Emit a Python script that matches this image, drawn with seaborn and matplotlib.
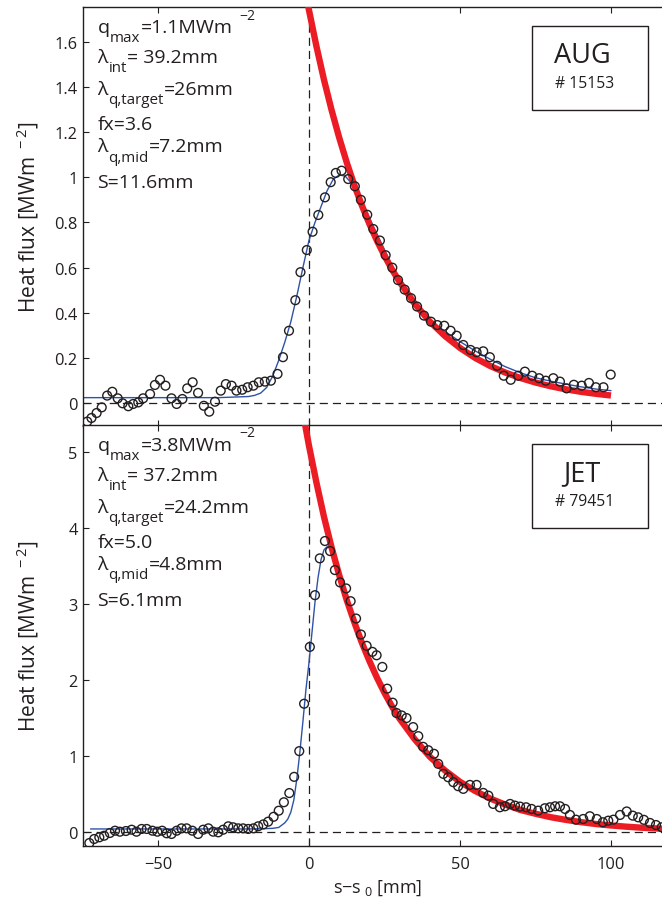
import matplotlib
matplotlib.use("Agg")
import matplotlib.pyplot as plt
from matplotlib.patches import Rectangle
import seaborn as sns

# ---------------- AUG #15153 ----------------
aug_s = [-73.4, -72.0, -70.3, -68.6, -66.8, -65.1, -63.3, -61.7, -59.8, -58.2,
         -56.5, -54.9, -52.6, -51.0, -49.3, -47.5, -45.5, -43.8, -41.9, -40.3,
         -38.5, -36.7, -34.8, -33.0, -31.1, -29.2, -27.5, -25.6, -24.0, -22.1,
         -20.3, -18.4, -16.6, -14.6, -12.6, -10.4, -8.6, -6.6, -4.5, -2.8,
         -0.7, 1.2, 3.1, 5.3, 7.2, 8.9, 10.8, 13.0, 15.2, 17.2,
         19.3, 21.3, 23.5, 25.4, 27.6, 29.5, 31.7, 33.8, 35.8, 38.1,
         40.4, 42.5, 44.8, 46.9, 48.9, 51.1, 53.5, 55.5, 57.7, 59.9,
         62.3, 64.5, 66.8, 69.3, 71.5, 73.9, 76.2, 78.4, 80.9, 83.1,
         85.3, 87.7, 90.3, 92.7, 95.0, 97.5, 99.9]
aug_q = [-0.081, -0.065, -0.043, -0.018, 0.034, 0.051, 0.022, 0.000, -0.013, -0.003,
         0.004, 0.022, 0.041, 0.081, 0.104, 0.078, 0.022, -0.003, 0.019, 0.066,
         0.093, 0.046, -0.011, -0.037, 0.007, 0.056, 0.085, 0.078, 0.056, 0.060,
         0.071, 0.078, 0.093, 0.096, 0.100, 0.130, 0.204, 0.321, 0.456, 0.580,
         0.678, 0.759, 0.833, 0.911, 0.978, 1.019, 1.029, 0.992, 0.960, 0.900,
         0.834, 0.771, 0.720, 0.655, 0.600, 0.545, 0.503, 0.465, 0.428, 0.388,
         0.361, 0.346, 0.343, 0.321, 0.299, 0.258, 0.236, 0.226, 0.230, 0.204,
         0.166, 0.122, 0.104, 0.122, 0.140, 0.122, 0.111, 0.100, 0.111, 0.096,
         0.066, 0.082, 0.078, 0.090, 0.071, 0.071, 0.127]

aug_fit_s = [-74.7, -30, -20, -18, -16, -14, -12, -10, -8, -6, -4, -2, 0, 2, 4, 6,
             8, 10, 12, 14, 16, 18, 20, 22.5, 25, 27.5, 30, 32.5, 35, 37.5, 40,
             45, 50, 55, 60, 65, 70, 75, 80, 85, 90, 95, 100]
aug_fit_q = [0.025, 0.025, 0.030, 0.035, 0.045, 0.070, 0.120, 0.190, 0.270, 0.360,
             0.475, 0.600, 0.720, 0.800, 0.870, 0.940, 0.990, 1.010, 1.005, 0.975,
             0.930, 0.880, 0.820, 0.750, 0.680, 0.610, 0.545, 0.490, 0.445, 0.400,
             0.368, 0.318, 0.273, 0.232, 0.195, 0.162, 0.135, 0.113, 0.098, 0.085,
             0.073, 0.063, 0.056]

aug_exp_s = [-2, 0, 2.5, 5, 7.5, 10, 12.5, 15, 17.5, 20, 22.5, 25, 27.5, 30, 35,
             40, 45, 50, 55, 60, 65, 70, 75, 80, 85, 90, 95, 100]
aug_exp_q = [1.882, 1.740, 1.578, 1.430, 1.297, 1.176, 1.066, 0.966, 0.876, 0.794,
             0.720, 0.653, 0.592, 0.537, 0.441, 0.362, 0.298, 0.245, 0.201, 0.165,
             0.136, 0.112, 0.092, 0.0755, 0.062, 0.051, 0.042, 0.0345]

# annotation lines as (text, role) pieces: "n" normal, "sub", "sup"
aug_info = [
    [("q", "n"), ("max", "sub"), ("=1.1MWm", "n"), ("\u22122", "sup")],
    [("λ", "n"), ("int", "sub"), ("= 39.2mm", "n")],
    [("λ", "n"), ("q,target", "sub"), ("=26mm", "n")],
    [("fx=3.6", "n")],
    [("λ", "n"), ("q,mid", "sub"), ("=7.2mm", "n")],
    [("S=11.6mm", "n")],
]
aug_name, aug_shot = "AUG", "# 15153"
aug_yticks = [0, 0.2, 0.4, 0.6, 0.8, 1.0, 1.2, 1.4, 1.6]
aug_yticklabels = ["0", "0.2", "0.4", "0.6", "0.8", "1", "1.2", "1.4", "1.6"]

# ---------------- JET #79451 ----------------
jet_s = [-72.7, -71.1, -69.4, -67.8, -65.9, -64.2, -62.6, -60.6, -58.7, -57.1,
         -55.4, -53.7, -51.8, -50.2, -48.6, -47.1, -45.5, -43.8, -42.2, -40.5,
         -38.6, -36.7, -35.0, -33.3, -31.7, -30.0, -28.4, -26.7, -25.1, -23.4,
         -21.8, -20.1, -18.4, -16.8, -15.1, -13.5, -11.7, -10.0, -8.3, -6.5,
         -4.9, -3.2, -1.6, 0.3, 2.0, 3.6, 5.3, 7.0, 8.6, 10.3,
         12.3, 13.8, 15.6, 17.2, 19.1, 21.0, 22.4, 24.3, 25.9, 27.7,
         29.0, 30.7, 32.3, 34.5, 36.2, 37.8, 39.5, 41.4, 42.8, 44.5,
         46.1, 47.8, 49.4, 51.1, 53.3, 55.5, 57.7, 59.4, 61.0, 63.2,
         64.9, 66.6, 68.2, 69.9, 71.9, 73.7, 75.9, 78.1, 79.8, 81.5,
         83.1, 84.8, 86.4, 88.4, 90.8, 93.0, 95.3, 97.3, 99.1, 100.8,
         103.0, 105.2, 107.2, 109.0, 110.9, 112.9, 114.9, 116.8]
jet_q = [-0.145, -0.092, -0.070, -0.049, -0.013, 0.017, 0.004, 0.013, 0.030, 0.004,
         0.040, 0.040, 0.017, 0.004, 0.017, -0.017, -0.026, 0.017, 0.048, 0.048,
         0.017, -0.026, 0.030, 0.048, 0.004, -0.004, 0.030, 0.075, 0.062, 0.048,
         0.048, 0.040, 0.048, 0.075, 0.100, 0.136, 0.200, 0.280, 0.391, 0.512,
         0.725, 1.063, 1.686, 2.433, 3.113, 3.597, 3.825, 3.693, 3.443, 3.281,
         3.202, 3.034, 2.806, 2.596, 2.447, 2.368, 2.323, 2.170, 1.884, 1.700,
         1.564, 1.532, 1.498, 1.379, 1.260, 1.120, 1.075, 1.028, 0.896, 0.764,
         0.720, 0.655, 0.602, 0.567, 0.619, 0.619, 0.514, 0.478, 0.369, 0.325,
         0.338, 0.369, 0.347, 0.334, 0.325, 0.303, 0.281, 0.312, 0.325, 0.338,
         0.338, 0.303, 0.224, 0.162, 0.171, 0.207, 0.171, 0.128, 0.149, 0.162,
         0.224, 0.270, 0.215, 0.193, 0.160, 0.119, 0.092, 0.062]

jet_fit_s = [-72.3, -20, -16, -12, -10, -8, -7, -6, -5, -4, -3, -2, -1, 0, 1, 2,
             3, 4, 5, 6, 7, 9, 11, 13, 15, 17.5, 20, 22.5, 25, 27.5, 30, 35, 40,
             45, 50, 60, 70, 80, 90, 100, 110, 120]
jet_fit_q = [0.040, 0.040, 0.042, 0.048, 0.060, 0.120, 0.170, 0.260, 0.420, 0.700,
             1.050, 1.450, 1.870, 2.220, 2.620, 3.020, 3.340, 3.580, 3.710, 3.750,
             3.730, 3.550, 3.300, 3.050, 2.800, 2.520, 2.270, 2.050, 1.850, 1.670,
             1.510, 1.240, 1.010, 0.830, 0.680, 0.460, 0.310, 0.215, 0.150, 0.105,
             0.077, 0.058]

jet_exp_s = [-2.5, 0, 2.5, 5, 7.5, 10, 12.5, 15, 17.5, 20, 22.5, 25, 27.5, 30, 35,
             40, 45, 50, 55, 60, 65, 70, 75, 80, 85, 90, 95, 100, 105, 110, 115, 120]
jet_exp_q = [5.62, 5.08, 4.59, 4.14, 3.74, 3.38, 3.05, 2.76, 2.49, 2.25,
             2.03, 1.83, 1.65, 1.49, 1.22, 0.99, 0.81, 0.66, 0.54, 0.44,
             0.36, 0.29, 0.24, 0.195, 0.16, 0.13, 0.105, 0.086, 0.070, 0.057,
             0.047, 0.038]

jet_info = [
    [("q", "n"), ("max", "sub"), ("=3.8MWm", "n"), ("\u22122", "sup")],
    [("λ", "n"), ("int", "sub"), ("= 37.2mm", "n")],
    [("λ", "n"), ("q,target", "sub"), ("=24.2mm", "n")],
    [("fx=5.0", "n")],
    [("λ", "n"), ("q,mid", "sub"), ("=4.8mm", "n")],
    [("S=6.1mm", "n")],
]
jet_name, jet_shot = "JET", "# 79451"
jet_yticks = [0, 1, 2, 3, 4, 5]
jet_yticklabels = ["0", "1", "2", "3", "4", "5"]

x_ticks = [-50, 0, 50, 100]
x_ticklabels = ["\u221250", "0", "50", "100"]

# ---------------- style ----------------
sns.set_theme(style="ticks")
plt.rcParams["font.family"] = ["Open Sans", "DejaVu Sans"]
plt.rcParams["mathtext.fontset"] = "custom"
plt.rcParams["mathtext.rm"] = "Open Sans"
plt.rcParams["mathtext.it"] = "Open Sans:italic"
plt.rcParams["mathtext.bf"] = "Open Sans:bold"
plt.rcParams["axes.unicode_minus"] = True

RED = "#ec1c24"
BLUE = "#2f52a6"
INK = "#231f20"

W, H = 662, 912
fig = plt.figure(figsize=(W / 100, H / 100), dpi=100)
renderer = fig.canvas.get_renderer()


def fx(px):
    return px / W


def fy(py):
    return 1 - py / H


def rich_line(x_px, base_px, pieces, size):
    """Write one annotation line piece by piece with lowered subscripts
    and raised superscripts."""
    x = x_px
    for txt, role in pieces:
        if role == "sub":
            fs, dy, gap = size * 0.78, 9.5, 0.5
        elif role == "sup":
            fs, dy, gap = size * 0.72, -13.5, 6.5
        else:
            fs, dy, gap = size, 0.0, 0.5
        x += gap
        t = fig.text(fx(x), fy(base_px + dy), txt, fontsize=fs, color=INK,
                     ha="left", va="baseline")
        x += t.get_window_extent(renderer=renderer).width


x_left_px, x_right_px = 83.3, 671.4
panels = [
    dict(top=8, bottom=427, ylim=(-0.1004, 1.753), s=aug_s, q=aug_q,
         fs=aug_fit_s, fq=aug_fit_q, es=aug_exp_s, eq=aug_exp_q,
         info=aug_info, name=aug_name, shot=aug_shot,
         yt=aug_yticks, ytl=aug_yticklabels, showx=False),
    dict(top=426, bottom=847, ylim=(-0.184, 5.35), s=jet_s, q=jet_q,
         fs=jet_fit_s, fq=jet_fit_q, es=jet_exp_s, eq=jet_exp_q,
         info=jet_info, name=jet_name, shot=jet_shot,
         yt=jet_yticks, ytl=jet_yticklabels, showx=True),
]

info_offsets = [25, 55, 87, 122, 144, 180]

for p in panels:
    ax = fig.add_axes([fx(x_left_px), fy(p["bottom"]),
                       fx(x_right_px - x_left_px), (p["bottom"] - p["top"]) / H])
    ax.set_facecolor("white")

    # reference lines through the separatrix position and zero flux
    ax.axhline(0, color=INK, lw=0.9, ls=(0, (6.5, 4)), zorder=1)
    ax.axvline(0, color=INK, lw=0.9, ls=(0, (6.5, 4)), zorder=1)

    sns.lineplot(x=p["fs"], y=p["fq"], ax=ax, color=BLUE, lw=1.0,
                 sort=False, zorder=2)
    sns.lineplot(x=p["es"], y=p["eq"], ax=ax, color=RED, lw=4.6,
                 sort=False, zorder=3, solid_capstyle="butt")
    sns.scatterplot(x=p["s"], y=p["q"], ax=ax, marker="o", s=40,
                    facecolor="none", edgecolor=INK, linewidth=1.0,
                    zorder=4)

    ax.set_xlim(-74.7, 120)
    ax.set_ylim(*p["ylim"])
    ax.set_yticks(p["yt"], p["ytl"])
    ax.set_xticks(x_ticks, x_ticklabels if p["showx"] else [""] * len(x_ticks))
    ax.tick_params(direction="in", top=True, right=True, length=4.5,
                   width=0.8, color=INK, labelsize=11.8, labelcolor=INK)
    ax.tick_params(axis="x", pad=7)
    ax.tick_params(axis="y", pad=4)
    for sp in ax.spines.values():
        sp.set_visible(True)
        sp.set_color(INK)
        sp.set_linewidth(1.0)

    ax.set_ylabel("Heat flux [MWm$^{\\ -2}$]", fontsize=15, color=INK)
    ax.yaxis.set_label_coords(-0.072, 0.5)
    if p["showx"]:
        ax.set_xlabel("s\u2212s$_{\\ 0}$ [mm]", fontsize=13, color=INK, labelpad=4)
    else:
        ax.set_xlabel("")

    for pieces, off in zip(p["info"], info_offsets):
        rich_line(97, p["top"] + off, pieces, 14)

    box_top = p["top"] + 19
    fig.patches.append(Rectangle((fx(531.5), fy(box_top + 84)), fx(116.5), 84 / H,
                                 transform=fig.transFigure, fill=False,
                                 edgecolor=INK, lw=1.0))
    fig.text(fx(582), fy(box_top + 29), p["name"], fontsize=19.5, color=INK,
             ha="center", va="center")
    fig.text(fx(585), fy(box_top + 57), p["shot"], fontsize=11.3, color=INK,
             ha="center", va="center")

fig.savefig("out.png", dpi=100)
